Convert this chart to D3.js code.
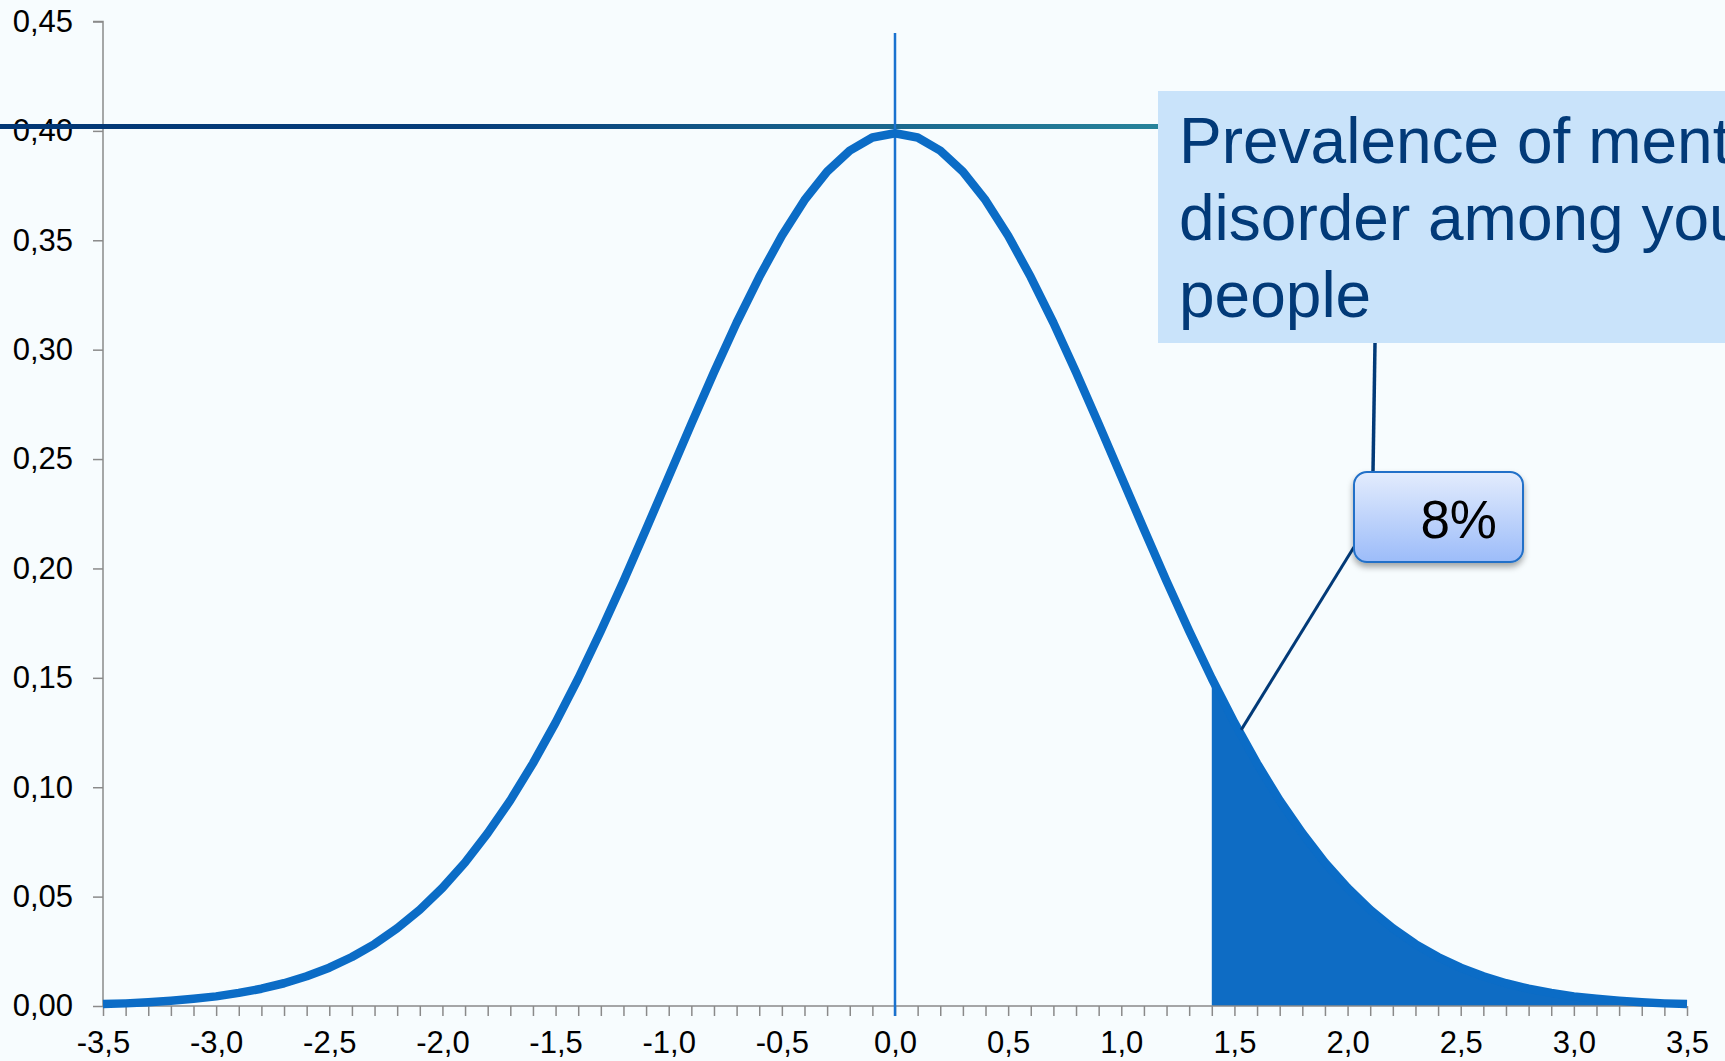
<!DOCTYPE html>
<html>
<head>
<meta charset="utf-8">
<script src="https://cdn.jsdelivr.net/npm/d3@7"></script>
<style>
  html, body { margin: 0; padding: 0; background: #f7fcfe; overflow: hidden; }
  svg { display: block; }
  text { font-family: "Liberation Sans", Arial, sans-serif; }
</style>
</head>
<body>
<script>
// Standard normal density, sampled every 0.1 from -3.5 to 3.5
const zValues = [
  -3.5, -3.4, -3.3, -3.2, -3.1, -3.0, -2.9, -2.8, -2.7, -2.6,
  -2.5, -2.4, -2.3, -2.2, -2.1, -2.0, -1.9, -1.8, -1.7, -1.6,
  -1.5, -1.4, -1.3, -1.2, -1.1, -1.0, -0.9, -0.8, -0.7, -0.6,
  -0.5, -0.4, -0.3, -0.2, -0.1, 0.0, 0.1, 0.2, 0.3, 0.4,
  0.5, 0.6, 0.7, 0.8, 0.9, 1.0, 1.1, 1.2, 1.3, 1.4,
  1.5, 1.6, 1.7, 1.8, 1.9, 2.0, 2.1, 2.2, 2.3, 2.4,
  2.5, 2.6, 2.7, 2.8, 2.9, 3.0, 3.1, 3.2, 3.3, 3.4, 3.5
];
const density = [
  0.0009, 0.0012, 0.0017, 0.0024, 0.0033, 0.0044, 0.0060, 0.0079, 0.0104, 0.0136,
  0.0175, 0.0224, 0.0283, 0.0355, 0.0440, 0.0540, 0.0656, 0.0790, 0.0940, 0.1109,
  0.1295, 0.1497, 0.1714, 0.1942, 0.2179, 0.2420, 0.2661, 0.2897, 0.3123, 0.3332,
  0.3521, 0.3683, 0.3814, 0.3910, 0.3970, 0.3989, 0.3970, 0.3910, 0.3814, 0.3683,
  0.3521, 0.3332, 0.3123, 0.2897, 0.2661, 0.2420, 0.2179, 0.1942, 0.1714, 0.1497,
  0.1295, 0.1109, 0.0940, 0.0790, 0.0656, 0.0540, 0.0440, 0.0355, 0.0283, 0.0224,
  0.0175, 0.0136, 0.0104, 0.0079, 0.0060, 0.0044, 0.0033, 0.0024, 0.0017, 0.0012, 0.0009
];

// Axis ticks
const xMinorTicks = d3.range(-35, 36).map(d => d / 10);
const xLabelTicks = [-3.5, -3.0, -2.5, -2.0, -1.5, -1.0, -0.5, 0.0, 0.5, 1.0, 1.5, 2.0, 2.5, 3.0, 3.5];
const yTicks = [0.00, 0.05, 0.10, 0.15, 0.20, 0.25, 0.30, 0.35, 0.40, 0.45];

// Shaded upper tail and its annotation
const tailStart = 1.4;
const tailShare = "8%";
const peakLevel = 0.402;
const calloutAnchor = [1.53, 0.1262];
const titleLines = ["Prevalence of mental", "disorder among young", "people"];

const W = 1725, H = 1061;
const svg = d3.select("body").append("svg").attr("width", W).attr("height", H);

const x = d3.scaleLinear().domain([-3.5, 3.5]).range([103, 1687]);
const y = d3.scaleLinear().domain([0, 0.45]).range([1006, 21.5]);

const loc = d3.formatLocale({ decimal: ",", thousands: ".", grouping: [3], currency: ["", ""], minus: "-" });
const fmtX = loc.format(".1f");
const fmtY = loc.format(".2f");

const boxLeft = 1158;

const defs = svg.append("defs");
const hGrad = defs.append("linearGradient").attr("id", "peakLineGrad")
  .attr("gradientUnits", "userSpaceOnUse")
  .attr("x1", 0).attr("x2", boxLeft).attr("y1", 0).attr("y2", 0);
hGrad.append("stop").attr("offset", "0%").attr("stop-color", "#023775");
hGrad.append("stop").attr("offset", "40%").attr("stop-color", "#063d7a");
hGrad.append("stop").attr("offset", "100%").attr("stop-color", "#27839b");

const boxGrad = defs.append("linearGradient").attr("id", "boxGrad")
  .attr("x1", "0%").attr("x2", "0%").attr("y1", "0%").attr("y2", "100%");
boxGrad.append("stop").attr("offset", "0%").attr("stop-color", "#e3ecfd");
boxGrad.append("stop").attr("offset", "100%").attr("stop-color", "#9cbcf9");

const shadow = defs.append("filter").attr("id", "shadow")
  .attr("x", "-20%").attr("y", "-20%").attr("width", "140%").attr("height", "150%");
shadow.append("feDropShadow").attr("dx", 0).attr("dy", 4).attr("stdDeviation", 3)
  .attr("flood-color", "#000").attr("flood-opacity", 0.35);

const pts = zValues.map((z, i) => ({ z, p: density[i] }));

// Shaded tail area
const tail = pts.filter(d => d.z >= tailStart - 1e-9);
svg.append("path")
  .datum(tail)
  .attr("fill", "#0e6cc4")
  .attr("d", d3.area().x(d => x(d.z)).y0(y(0)).y1(d => y(d.p)));

// Axes
const yAxis = d3.axisLeft(y).tickValues(yTicks).tickFormat(fmtY).tickSize(10).tickPadding(20);
const gy = svg.append("g").attr("transform", `translate(${x(-3.5)},0)`).call(yAxis);
gy.select(".domain").attr("stroke", "#8a8a8a").attr("stroke-width", 1.5).attr("d", `M-10,${y(0.45)}H0V${y(0)}`);
gy.selectAll(".tick line").attr("stroke", "#8a8a8a").attr("stroke-width", 1.5);
gy.selectAll(".tick text").attr("font-size", 31).attr("fill", "#000")
  .attr("font-family", "Liberation Sans, Arial, sans-serif");

const xAxis = d3.axisBottom(x).tickValues(xMinorTicks)
  .tickFormat(d => xLabelTicks.some(t => Math.abs(t - d) < 1e-9) ? fmtX(d) : "")
  .tickSize(10).tickPadding(15);
const gx = svg.append("g").attr("transform", `translate(0,${y(0)})`).call(xAxis);
gx.select(".domain").attr("stroke", "#8a8a8a").attr("stroke-width", 1.5).attr("d", `M${x(-3.5)},0H${x(3.5)}`);
gx.selectAll(".tick line").attr("stroke", "#8a8a8a").attr("stroke-width", 1.5);
gx.selectAll(".tick text").attr("font-size", 31).attr("fill", "#000")
  .attr("font-family", "Liberation Sans, Arial, sans-serif");

// Horizontal line at the peak level
svg.append("line")
  .attr("x1", 0).attr("x2", boxLeft)
  .attr("y1", y(peakLevel)).attr("y2", y(peakLevel))
  .attr("stroke", "url(#peakLineGrad)").attr("stroke-width", 5);

// Vertical line at the mean
svg.append("line")
  .attr("x1", x(0)).attr("x2", x(0))
  .attr("y1", 33).attr("y2", y(0) + 10)
  .attr("stroke", "#1a72cf").attr("stroke-width", 2.5);

// Density curve
svg.append("path")
  .datum(pts)
  .attr("fill", "none")
  .attr("stroke", "#0b6cc6")
  .attr("stroke-width", 8.5)
  .attr("stroke-linejoin", "round")
  .attr("d", d3.line().x(d => x(d.z)).y(d => y(d.p)));

// Title box
const titleBox = { x: boxLeft, y: 91, h: 252 };
svg.append("rect")
  .attr("x", titleBox.x).attr("y", titleBox.y)
  .attr("width", W - titleBox.x + 10).attr("height", titleBox.h)
  .attr("fill", "#c9e3fa");
const baselines = [163, 240, 317];
svg.append("g").selectAll("text").data(titleLines).join("text")
  .attr("x", 1179).attr("y", (d, i) => baselines[i])
  .attr("font-size", 64).attr("fill", "#023a78")
  .text(d => d);

// Percentage callout
const pb = { x: 1354, y: 472, w: 169, h: 90 };
svg.append("line")
  .attr("x1", 1375).attr("y1", titleBox.y + titleBox.h)
  .attr("x2", 1373).attr("y2", pb.y)
  .attr("stroke", "#023a78").attr("stroke-width", 3.5);
svg.append("line")
  .attr("x1", pb.x).attr("y1", 547)
  .attr("x2", x(calloutAnchor[0])).attr("y2", y(calloutAnchor[1]))
  .attr("stroke", "#023a78").attr("stroke-width", 3);
svg.append("rect")
  .attr("x", pb.x).attr("y", pb.y).attr("width", pb.w).attr("height", pb.h)
  .attr("rx", 13).attr("ry", 13)
  .attr("fill", "url(#boxGrad)").attr("stroke", "#2070c8").attr("stroke-width", 2)
  .attr("filter", "url(#shadow)");
svg.append("text")
  .attr("x", 1497).attr("y", 538)
  .attr("text-anchor", "end")
  .attr("font-size", 53).attr("fill", "#000")
  .text(tailShare);
</script>
</body>
</html>
